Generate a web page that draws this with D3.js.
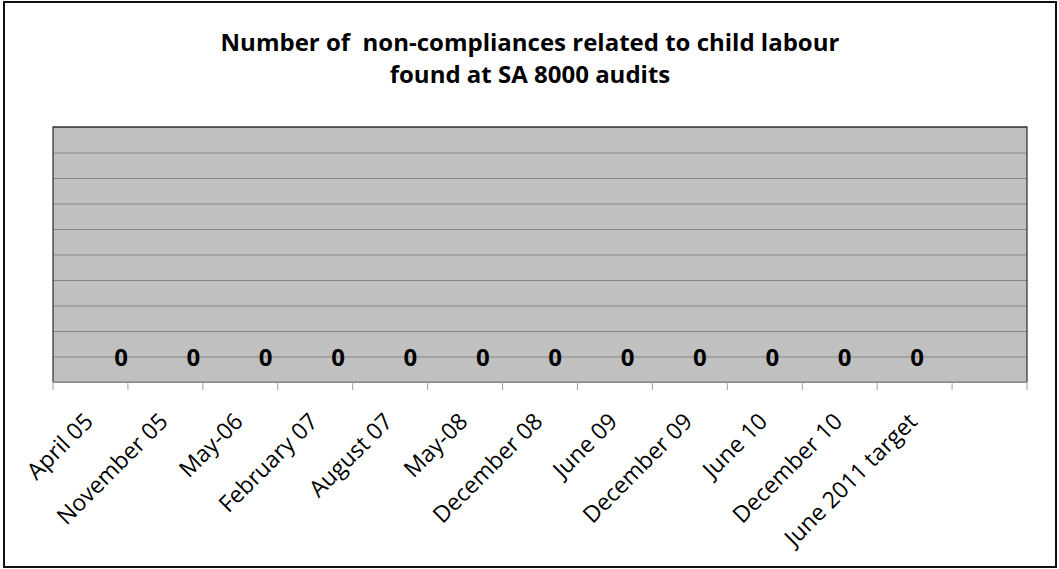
<!DOCTYPE html>
<html>
<head>
<meta charset="utf-8">
<script src="https://cdn.jsdelivr.net/npm/d3@7"></script>
<style>
  html, body { margin: 0; padding: 0; background: #fff; }
  svg { display: block; }
  text { white-space: pre; }
</style>
</head>
<body>
<svg id="chart" width="1059" height="569"></svg>
<script>
// Audit dates (the last slot on the axis is left empty)
const categories = [
  "April 05", "November 05", "May-06", "February 07", "August 07", "May-08",
  "December 08", "June 09", "December 09", "June 10", "December 10",
  "June 2011 target", ""
];
// Non-compliances found at each audit
const values = [0, 0, 0, 0, 0, 0, 0, 0, 0, 0, 0, 0];
// Value axis range and gridline steps (no tick labels are shown)
const yDomain = [-1, 9];
const yTicks = [-1, 0, 1, 2, 3, 4, 5, 6, 7, 8, 9];
const titleLines = [
  "Number of  non-compliances related to child labour",
  "found at SA 8000 audits"
];

const W = 1059, H = 569;
const plot = { left: 53, top: 127, right: 1027, bottom: 382 };
const font = "'Open Sans', sans-serif";

const svg = d3.select("#chart");

// outer chart frame
svg.append("rect")
  .attr("x", 4).attr("y", 2)
  .attr("width", W - 7).attr("height", H - 4)
  .attr("fill", "#fff")
  .attr("stroke", "#111").attr("stroke-width", 2);

// title
svg.append("g").selectAll("text")
  .data(titleLines)
  .join("text")
  .attr("x", 530)
  .attr("y", (d, i) => 51 + i * 32)
  .attr("text-anchor", "middle")
  .attr("font-family", font)
  .attr("font-weight", "bold")
  .attr("font-size", 24)
  .attr("fill", "#000")
  .text(d => d);

const x = d3.scaleBand()
  .domain(categories.map((c, i) => i))
  .range([plot.left, plot.right])
  .paddingInner(0).paddingOuter(0);

const y = d3.scaleLinear()
  .domain(yDomain)
  .range([plot.bottom, plot.top]);

// data label positions run across the labelled audits
const labelX = d3.scalePoint()
  .domain(values.map((v, i) => i))
  .range([121, 917]);

// plot area
svg.append("rect")
  .attr("x", plot.left).attr("y", plot.top)
  .attr("width", plot.right - plot.left)
  .attr("height", plot.bottom - plot.top)
  .attr("fill", "#c0c0c0");

// horizontal gridlines
const yAxis = d3.axisLeft(y)
  .tickValues(yTicks)
  .tickSize(-(plot.right - plot.left))
  .tickFormat("");
const gy = svg.append("g")
  .attr("transform", `translate(${plot.left},0)`)
  .call(yAxis);
gy.select(".domain").remove();
gy.selectAll(".tick line")
  .attr("stroke", "#858585")
  .attr("stroke-width", 1.2);

// plot border
svg.append("path")
  .attr("d", `M${plot.left},${plot.bottom}V${plot.top}H${plot.right}V${plot.bottom}`)
  .attr("fill", "none")
  .attr("stroke", "#3a3a3a")
  .attr("stroke-width", 1.3);

// category axis: ticks sit on the band boundaries
const bounds = d3.range(categories.length + 1)
  .map(i => plot.left + i * x.bandwidth());
const gx = svg.append("g");
gx.append("line")
  .attr("x1", plot.left).attr("x2", plot.right)
  .attr("y1", plot.bottom).attr("y2", plot.bottom)
  .attr("stroke", "#8c8c8c").attr("stroke-width", 1.5);
gx.selectAll("line.tick")
  .data(bounds)
  .join("line")
  .attr("class", "tick")
  .attr("x1", d => d).attr("x2", d => d)
  .attr("y1", plot.bottom).attr("y2", plot.bottom + 8)
  .attr("stroke", "#a0a0a0").attr("stroke-width", 1);

gx.selectAll("text")
  .data(categories.map((c, i) => ({ c, i })).filter(d => d.c))
  .join("text")
  .attr("transform", d =>
    `translate(${x(d.i) + x.bandwidth() / 2 + 4},${plot.bottom + 41}) rotate(-45)`)
  .attr("text-anchor", "end")
  .attr("font-family", font)
  .attr("font-size", 23)
  .attr("fill", "#000")
  .text(d => d.c);

// value labels
svg.append("g").selectAll("text")
  .data(values.map((v, i) => ({ v, i })))
  .join("text")
  .attr("x", d => labelX(d.i))
  .attr("y", d => y(d.v))
  .attr("dy", "0.4em")
  .attr("text-anchor", "middle")
  .attr("font-family", font)
  .attr("font-weight", "bold")
  .attr("font-size", 24)
  .attr("fill", "#000")
  .text(d => d.v);
</script>
</body>
</html>
